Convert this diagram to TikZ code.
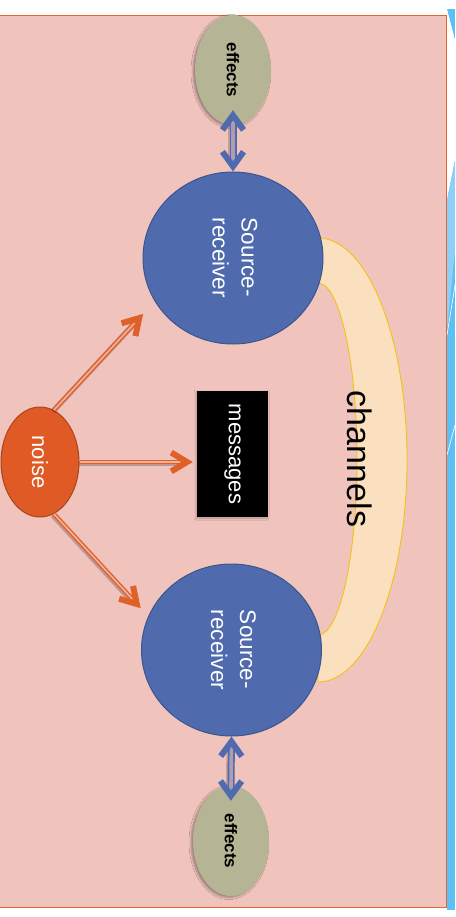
\documentclass[tikz,border=0pt]{standalone}
\usepackage{fontspec}
\setmainfont{Liberation Sans}
\usepackage{graphicx}
\usetikzlibrary{shapes.geometric,shadows.blur,decorations.markings}

\definecolor{slidebg}{HTML}{F0C3BD}
\definecolor{frameor}{HTML}{E2652F}
\definecolor{srcblue}{HTML}{4F6BAE}
\definecolor{srcedge}{HTML}{3A558F}
\definecolor{effgreen}{HTML}{B5B494}
\definecolor{noiseor}{HTML}{DF5A24}
\definecolor{noiseedge}{HTML}{A8461E}
\definecolor{chanfill}{HTML}{FAE0BE}
\definecolor{chanedge}{HTML}{F2C200}
\definecolor{arrowor}{HTML}{E0602A}
\definecolor{arrowin}{HTML}{F2B29E}
\definecolor{blueshaftin}{HTML}{B09CB0}
\definecolor{stripblue}{HTML}{5BC0F5}
\definecolor{striplight}{HTML}{8DD0F7}

\tikzset{
  srcnode/.style={ellipse, fill=srcblue, draw=srcedge, line width=1pt,
    minimum width=180pt, minimum height=172pt, inner sep=0pt,
    text=white, font=\fontsize{22.5}{29}\selectfont},
  effnode/.style={ellipse, fill=effgreen, minimum width=76pt, minimum height=110pt,
    inner sep=0pt, font=\fontsize{17}{20}\selectfont\bfseries,
    blur shadow={shadow xshift=-2pt, shadow yshift=-1.5pt, shadow blur radius=2pt, shadow opacity=35}},
  noisenode/.style={ellipse, fill=noiseor, draw=noiseedge, line width=1pt,
    minimum width=78pt, minimum height=110pt, inner sep=0pt,
    text=white, font=\fontsize{22}{26}\selectfont},
  msgnode/.style={rectangle, fill=black, minimum width=71pt, minimum height=126pt,
    inner sep=0pt, text=white, font=\fontsize{22}{26}\selectfont,
    blur shadow={shadow xshift=-1pt, shadow yshift=-1pt, shadow blur radius=2pt, shadow opacity=25}},
  chanlabel/.style={inner sep=0pt, font=\fontsize{34}{40}\selectfont},
  % orange one-way arrow: outlined shaft plus a chevron head that stops #1 short of the target
  oarrow/.style={draw=arrowor, line width=4.4pt, shorten >=10pt+#1,
    preaction={draw=black, draw opacity=.22, line width=5.6pt,
      transform canvas={shift={(-1pt,-1.3pt)}}},
    postaction={draw=arrowin, line width=1.6pt},
    postaction={decorate, decoration={markings,
      mark=at position 1 with {\fill[arrowor, xshift=-#1] (0,0) -- (-20pt,12pt) -- (-23.1pt,6.86pt)
        -- (-11.7pt,0pt) -- (-23.1pt,-6.86pt) -- (-20pt,-12pt) -- cycle;}}}},
  oarrow/.default=0pt,
  % blue two-way arrow: the far head reaches into the effects ellipse
  barrow/.style={draw=srcblue, line width=7pt, shorten <=8pt, shorten >=-3pt,
    preaction={draw=black, draw opacity=.18, line width=8pt,
      transform canvas={shift={(-1pt,-1pt)}}},
    postaction={draw=blueshaftin, line width=3.6pt},
    postaction={decorate, decoration={markings,
      mark=at position 0 with {\fill[srcblue] (0,0) -- (18pt,13pt) -- (21.5pt,8.13pt)
        -- (10.2pt,0pt) -- (21.5pt,-8.13pt) -- (18pt,-13pt) -- cycle;},
      mark=at position 1 with {\fill[srcblue] (15pt,0) -- (-3pt,13pt) -- (-6.5pt,8.13pt)
        -- (4.8pt,0pt) -- (-6.5pt,-8.13pt) -- (-3pt,-13pt) -- cycle;}}}}
}

\begin{document}
\begin{tikzpicture}[x=1pt,y=1pt]
\useasboundingbox (0,0) rectangle (455,-917);

% slide panel
\fill[white] (0,0) rectangle (455,-917);
\draw[fill=slidebg, draw=frameor, line width=1pt] (-2,-16) rectangle (446,-907);

% decorative strip on the right edge
\fill[stripblue] (447,-9) rectangle (455,-910);
\fill[white] (447,-9) -- (455,-40) -- (455,-160) -- (447,-200) -- cycle;
\fill[striplight] (447,-200) -- (455,-160) -- (455,-250) -- (447,-330) -- cycle;
\draw[white, line width=.6pt] (447,-335) -- (455,-285);
\draw[white, line width=.6pt] (447,-455) -- (455,-425);

% channel band between the two source-receivers
\fill[chanfill, draw=chanedge, line width=.8pt]
  (318,-238) arc[start angle=90, end angle=-90, x radius=89pt, y radius=222pt]
  -- (318,-635) arc[start angle=-90, end angle=90, x radius=39pt, y radius=176pt]
  -- cycle;

% nodes
\node[effnode] (eff1) at (233,-70) {\rotatebox{-90}{effects}};
\node[srcnode] (src1) at (233,-258)
  {\rotatebox{-90}{\begin{tabular}{@{}l@{}}Source-\\receiver\end{tabular}}};
\node[noisenode] (noise) at (40,-462) {\rotatebox{-90}{noise}};
\node[msgnode] (msg) at (232.5,-454) {\rotatebox{-90}{messages}};
\node[srcnode] (src2) at (231.5,-650)
  {\rotatebox{-90}{\begin{tabular}{@{}l@{}}Source-\\receiver\end{tabular}}};
\node[effnode] (eff2) at (231,-841) {\rotatebox{-90}{effects}};
\node[chanlabel] (chan) at (360,-459) {\rotatebox{-90}{channels}};

% connectors
\draw[barrow] (src1.north) -- (eff1.south);
\draw[barrow] (src2.south) -- (eff2.north);
\draw[oarrow=17pt] (noise.75) -- (src1.209);
\draw[oarrow=4pt] (noise.east) -- (noise.east -| msg.west);
\draw[oarrow=11pt] (noise.-75) -- (src2.158);
\end{tikzpicture}
\end{document}
